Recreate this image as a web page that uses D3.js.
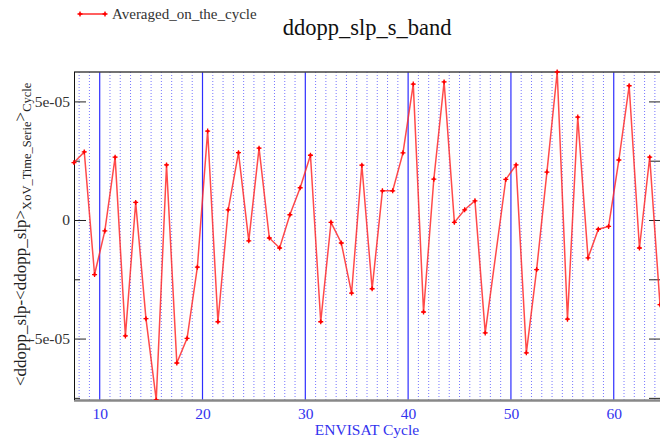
<!DOCTYPE html>
<html>
<head>
<meta charset="utf-8">
<script src="https://cdn.jsdelivr.net/npm/d3@7"></script>
<style>
  html, body { margin: 0; padding: 0; background: #fff; }
  svg { display: block; font-family: "Liberation Serif", "Times New Roman", serif; }
</style>
</head>
<body>
<svg id="chart" width="660" height="442"></svg>
<script>
// ENVISAT cycles (cycle 48.5 has no sample)
const cycles = [
  7.5, 8.5, 9.5, 10.5, 11.5, 12.5, 13.5, 14.5, 15.5, 16.5,
  17.5, 18.5, 19.5, 20.5, 21.5, 22.5, 23.5, 24.5, 25.5, 26.5,
  27.5, 28.5, 29.5, 30.5, 31.5, 32.5, 33.5, 34.5, 35.5, 36.5,
  37.5, 38.5, 39.5, 40.5, 41.5, 42.5, 43.5, 44.5, 45.5, 46.5,
  47.5, 49.5, 50.5, 51.5, 52.5, 53.5, 54.5, 55.5, 56.5, 57.5,
  58.5, 59.5, 60.5, 61.5, 62.5, 63.5, 64.5
];

// cycle-averaged ddopp_slp anomaly
const averaged = [
  2.42e-5, 2.87e-5, -2.30e-5, -0.46e-5, 2.65e-5, -4.89e-5, 0.74e-5, -4.16e-5, -7.59e-5, 2.32e-5,
  -6.03e-5, -4.99e-5, -1.99e-5, 3.75e-5, -4.29e-5, 0.43e-5, 2.84e-5, -0.88e-5, 3.03e-5, -0.76e-5,
  -1.18e-5, 0.22e-5, 1.36e-5, 2.73e-5, -4.29e-5, -0.10e-5, -0.97e-5, -3.08e-5, 2.31e-5, -2.90e-5,
  1.23e-5, 1.23e-5, 2.83e-5, 5.73e-5, -3.88e-5, 1.72e-5, 5.82e-5, -0.10e-5, 0.43e-5, 0.81e-5,
  -4.76e-5, 1.71e-5, 2.32e-5, -5.60e-5, -2.09e-5, 2.02e-5, 6.24e-5, -4.18e-5, 4.34e-5, -1.60e-5,
  -0.39e-5, -0.27e-5, 2.53e-5, 5.66e-5, -1.18e-5, 2.65e-5, -3.57e-5
];

const seriesName = "Averaged_on_the_cycle";
const titleText = "ddopp_slp_s_band";
const xTitle = "ENVISAT Cycle";

const xMajorTicks = [10, 20, 30, 40, 50, 60];
const xMajorLabels = ["10", "20", "30", "40", "50", "60"];
const yMajorTicks = [-5e-5, 0, 5e-5];
const yMajorLabels = ["-5e-05", "0", "5e-05"];
const yMinorTicks = [-7.5e-5, -2.5e-5, 2.5e-5];

const serif = "'Liberation Serif', 'Times New Roman', serif";
const svg = d3.select("#chart");
const plot = { left: 74, right: 660, top: 72, bottom: 400 };

const x = d3.scaleLinear().domain(d3.extent(cycles)).range([plot.left, plot.right]);
const y = d3.scaleLinear().domain(d3.extent(averaged)).range([plot.bottom, plot.top]);

const data = cycles.map((c, i) => ({ c, v: averaged[i] }));

// vertical grid: dotted at every cycle, solid at every tenth
const allCycles = d3.range(Math.ceil(x.domain()[0]), Math.floor(x.domain()[1]) + 1);
const grid = svg.append("g");
grid.selectAll("line.minor")
  .data(allCycles.filter(c => c % 10 !== 0))
  .join("line")
  .attr("x1", d => x(d)).attr("x2", d => x(d))
  .attr("y1", plot.top).attr("y2", plot.bottom)
  .attr("stroke", "#4848ff")
  .attr("stroke-opacity", 0.75)
  .attr("stroke-width", 1)
  .attr("stroke-dasharray", "1,2");
grid.selectAll("line.major")
  .data(xMajorTicks)
  .join("line")
  .attr("x1", d => x(d)).attr("x2", d => x(d))
  .attr("y1", plot.top).attr("y2", plot.bottom)
  .attr("stroke", "#2e2eff")
  .attr("stroke-width", 1.2);

// frame
svg.append("line")
  .attr("x1", plot.left).attr("x2", plot.right)
  .attr("y1", plot.top).attr("y2", plot.top)
  .attr("stroke", "#444").attr("stroke-width", 1.5);
svg.append("line")
  .attr("x1", plot.left).attr("x2", plot.right)
  .attr("y1", plot.bottom + 0.5).attr("y2", plot.bottom + 0.5)
  .attr("stroke", "#888").attr("stroke-width", 2.5);
svg.append("line")
  .attr("x1", plot.left + 0.5).attr("x2", plot.left + 0.5)
  .attr("y1", plot.top).attr("y2", plot.bottom)
  .attr("stroke", "#111").attr("stroke-width", 1);

// left axis: inward ticks with labels
const yAxisL = d3.axisLeft(y)
  .tickValues(yMajorTicks)
  .tickFormat((d, i) => yMajorLabels[i])
  .tickSizeInner(-12).tickSizeOuter(0).tickPadding(4);
const gL = svg.append("g").attr("transform", `translate(${plot.left},0)`).call(yAxisL);
gL.attr("font-family", serif);
gL.select(".domain").remove();
gL.selectAll(".tick line").attr("stroke", "#222");
gL.selectAll(".tick text")
  .attr("font-family", serif)
  .attr("font-size", 15.5).attr("fill", "#333");

const gLm = svg.append("g").attr("transform", `translate(${plot.left},0)`)
  .call(d3.axisLeft(y).tickValues(yMinorTicks).tickFormat("").tickSizeInner(-6).tickSizeOuter(0));
gLm.select(".domain").remove();
gLm.selectAll(".tick line").attr("stroke", "#222");

// right axis: inward ticks only
const gR = svg.append("g").attr("transform", `translate(${plot.right},0)`)
  .call(d3.axisRight(y).tickValues(yMajorTicks.concat(yMinorTicks)).tickFormat("").tickSizeInner(-11).tickSizeOuter(0));
gR.select(".domain").remove();
gR.selectAll(".tick line").attr("stroke", "#222");

// bottom axis labels
const gB = svg.append("g").attr("transform", `translate(0,${plot.bottom})`)
  .call(d3.axisBottom(x).tickValues(xMajorTicks).tickFormat((d, i) => xMajorLabels[i]).tickSize(0).tickPadding(8));
gB.attr("font-family", serif);
gB.select(".domain").remove();
gB.selectAll(".tick text")
  .attr("font-family", serif)
  .attr("font-size", 15.5).attr("fill", "#3333ee");

svg.append("text")
  .attr("x", (plot.left + plot.right) / 2).attr("y", 435)
  .attr("text-anchor", "middle")
  .attr("font-family", serif)
  .attr("font-size", 15.5).attr("fill", "#3333ee")
  .text(xTitle);

// y axis title with subscripts
const yt = svg.append("text")
  .attr("transform", "translate(26,386) rotate(-90)")
  .attr("font-family", serif)
  .attr("font-size", 17).attr("fill", "#222");
yt.append("tspan").text("<ddopp_slp-<ddopp_slp>");
yt.append("tspan").attr("font-size", 12.5).attr("dy", 5).text("XoV_Time_Serie");
yt.append("tspan").attr("dy", -5).text(">");
yt.append("tspan").attr("font-size", 12.5).attr("dy", 5).text("Cycle");

// title
svg.append("text")
  .attr("x", (plot.left + plot.right) / 2).attr("y", 35)
  .attr("text-anchor", "middle")
  .attr("font-family", serif)
  .attr("font-size", 22.5).attr("fill", "#111")
  .text(titleText);

// series line and markers
svg.append("clipPath").attr("id", "plotclip")
  .append("rect")
  .attr("x", plot.left - 4).attr("y", plot.top - 4)
  .attr("width", plot.right - plot.left + 8).attr("height", plot.bottom - plot.top + 4);

const line = d3.line().x(d => x(d.c)).y(d => y(d.v));
const series = svg.append("g").attr("clip-path", "url(#plotclip)");
series.append("path")
  .datum(data)
  .attr("d", line)
  .attr("fill", "none")
  .attr("stroke", "#ff2a2a")
  .attr("stroke-width", 1.5)
  .attr("stroke-opacity", 0.85);

const plusPath = "M-2.5,0H2.5M0,-2.5V2.5";
function marker(g) {
  g.append("path").attr("d", plusPath).attr("stroke", "#ff0000").attr("stroke-width", 1.3);
  g.append("circle").attr("r", 1.4).attr("fill", "#ff0000");
}
series.selectAll("g.pt")
  .data(data)
  .join("g")
  .attr("transform", d => `translate(${x(d.c)},${y(d.v)})`)
  .each(function () { marker(d3.select(this)); });

// legend
const lg = svg.append("g");
lg.append("line")
  .attr("x1", 80).attr("x2", 105).attr("y1", 14).attr("y2", 14)
  .attr("stroke", "#ff2a2a").attr("stroke-width", 1.5);
[80, 105].forEach(px => marker(lg.append("g").attr("transform", `translate(${px},14)`)));
lg.append("text")
  .attr("x", 112).attr("y", 18.5)
  .attr("font-family", serif)
  .attr("font-size", 15).attr("fill", "#333")
  .text(seriesName);
</script>
</body>
</html>
